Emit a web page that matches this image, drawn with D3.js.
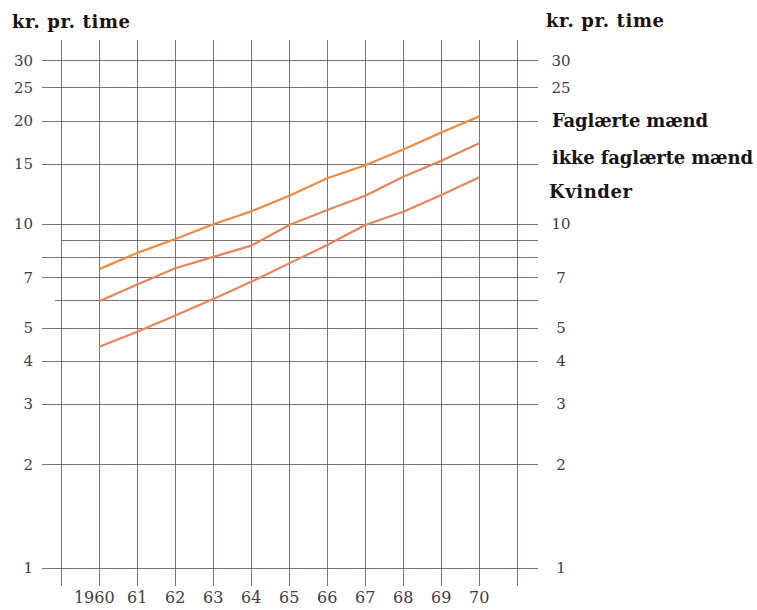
<!DOCTYPE html>
<html>
<head>
<meta charset="utf-8">
<script src="https://cdn.jsdelivr.net/npm/d3@7/dist/d3.min.js"></script>
<style>
  html, body { margin: 0; padding: 0; background: #ffffff; }
  svg { display: block; }
</style>
</head>
<body>
<svg id="chart" width="757" height="610"></svg>
<script>
// ---- data ----
const years = [1960, 1961, 1962, 1963, 1964, 1965, 1966, 1967, 1968, 1969, 1970];
const yearLabels = ["1960", "61", "62", "63", "64", "65", "66", "67", "68", "69", "70"];
const gridYears = [1959, 1960, 1961, 1962, 1963, 1964, 1965, 1966, 1967, 1968, 1969, 1970, 1971];

const faglaerteMaend = [7.4, 8.25, 9.05, 10.0, 10.9, 12.1, 13.6, 14.85, 16.5, 18.5, 20.6];
const ikkeFaglaerteMaend = [5.97, 6.68, 7.44, 8.03, 8.66, 9.95, 11.0, 12.1, 13.75, 15.3, 17.2];
const kvinder = [4.4, 4.86, 5.42, 6.06, 6.8, 7.69, 8.7, 9.95, 10.87, 12.16, 13.7];

const gridValues = [1, 2, 3, 4, 5, 6, 7, 8, 9, 10, 15, 20, 25, 30];
const leftTickValues = [1, 2, 3, 4, 5, 7, 10, 15, 20, 25, 30];
const rightTickValues = [1, 2, 3, 4, 5, 7, 10, 25, 30];

const seriesNames = ["Faglærte mænd", "ikke faglærte mænd", "Kvinder"];
const unitLabel = "kr. pr. time";

// ---- layout ----
const svg = d3.select("#chart");
const x = d3.scaleLinear().domain([1960, 1970]).range([99.3, 479.3]);
const y = d3.scaleLog().domain([1, 30]).range([567.7, 60.3]);

const gridColor = "#5f5050";
const gridTop = 40, gridBottom = 586;
const gridLeft = 42, gridRight = 538;
const serif = "'DejaVu Serif', 'Liberation Serif', serif";

// horizontal grid lines
const hStart = v => (v === 9 ? 61 : v === 6 ? 55 : gridLeft);
svg.append("g").selectAll("line")
  .data(gridValues)
  .join("line")
  .attr("x1", d => hStart(d))
  .attr("x2", gridRight)
  .attr("y1", d => Math.round(y(d)) + 0.5)
  .attr("y2", d => Math.round(y(d)) + 0.5)
  .attr("stroke", gridColor)
  .attr("stroke-opacity", 0.8)
  .attr("stroke-width", 1);

// vertical grid lines
svg.append("g").selectAll("line")
  .data(gridYears)
  .join("line")
  .attr("x1", d => Math.round(x(d)) + 0.5)
  .attr("x2", d => Math.round(x(d)) + 0.5)
  .attr("y1", gridTop)
  .attr("y2", gridBottom)
  .attr("stroke", gridColor)
  .attr("stroke-opacity", 0.8)
  .attr("stroke-width", 1);

// series lines
const line = d3.line().x((d, i) => x(years[i])).y(d => y(d));
const seriesData = [faglaerteMaend, ikkeFaglaerteMaend, kvinder];
const seriesColors = ["#ef8a42", "#e5855a", "#ea845c"];
svg.append("g").selectAll("path")
  .data(seriesData)
  .join("path")
  .attr("d", d => line(d))
  .attr("fill", "none")
  .attr("stroke", (d, i) => seriesColors[i])
  .attr("stroke-width", 2.2)
  .attr("stroke-linejoin", "round");

// left tick labels
svg.append("g").selectAll("text")
  .data(leftTickValues)
  .join("text")
  .attr("x", 33)
  .attr("y", d => y(d))
  .attr("dy", "0.35em")
  .attr("text-anchor", "end")
  .attr("font-family", serif)
  .attr("font-size", 15)
  .attr("fill", "#4a3a3a")
  .text(d => d);

// right tick labels
svg.append("g").selectAll("text")
  .data(rightTickValues)
  .join("text")
  .attr("x", 561)
  .attr("y", d => y(d))
  .attr("dy", "0.35em")
  .attr("text-anchor", "middle")
  .attr("font-family", serif)
  .attr("font-size", 15)
  .attr("fill", "#4a3a3a")
  .text(d => d);

// year labels
svg.append("g").selectAll("text")
  .data(years)
  .join("text")
  .attr("x", d => x(d) - (d === 1960 ? 5 : 0))
  .attr("y", 603)
  .attr("text-anchor", "middle")
  .attr("font-family", serif)
  .attr("font-size", 16)
  .attr("fill", "#4a3a3a")
  .text((d, i) => yearLabels[i]);

// unit titles
[[12, 28], [546, 27]].forEach(([tx, ty]) => {
  svg.append("text")
    .attr("x", tx)
    .attr("y", ty)
    .attr("font-family", serif)
    .attr("font-weight", "bold")
    .attr("font-size", 18)
    .attr("textLength", 118)
    .attr("fill", "#1c1212")
    .text(unitLabel);
});

// series labels
const seriesLabelY = [127, 164, 198];
const seriesLabelW = [156, 201, 83];
svg.append("g").selectAll("text")
  .data(seriesNames)
  .join("text")
  .attr("x", (d, i) => i === 2 ? 549 : 552)
  .attr("y", (d, i) => seriesLabelY[i])
  .attr("font-family", serif)
  .attr("font-weight", "bold")
  .attr("font-size", 18)
  .attr("textLength", (d, i) => seriesLabelW[i])
  .attr("fill", "#1c1212")
  .text(d => d);
</script>
</body>
</html>
